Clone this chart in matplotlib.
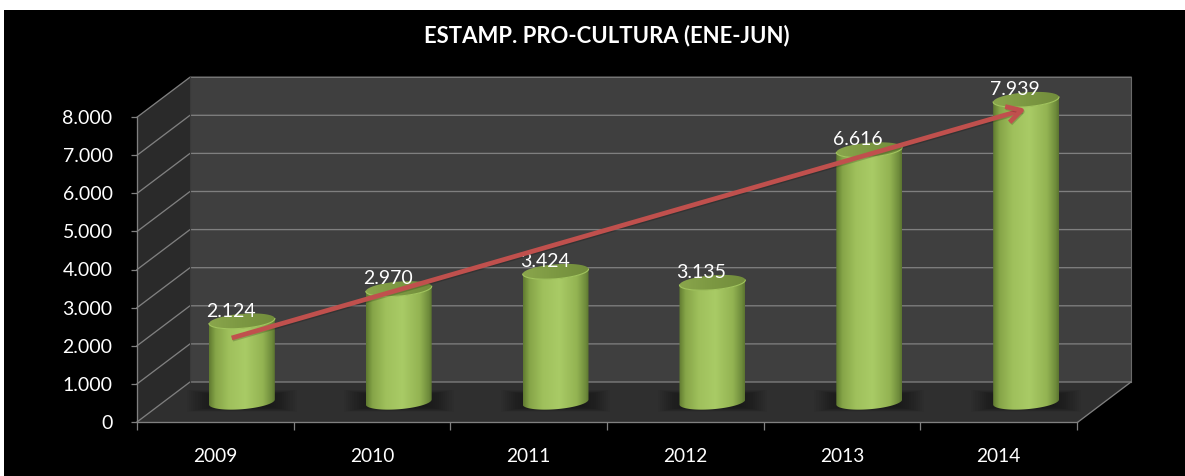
#!/usr/bin/env python3
# -*- coding: utf-8 -*-
import matplotlib
matplotlib.use("Agg")
import matplotlib.pyplot as plt
import matplotlib.patheffects as pe
from matplotlib.colors import LinearSegmentedColormap
from matplotlib.patches import Polygon, Rectangle
import numpy as np

years = ["2009", "2010", "2011", "2012", "2013", "2014"]
values = [2124, 2970, 3424, 3135, 6616, 7939]
y_ticks = [0, 1000, 2000, 3000, 4000, 5000, 6000, 7000, 8000]
title = "ESTAMP. PRO-CULTURA (ENE-JUN)"
# trend arrow, from and to (category position, value)
arrow_start = (-0.065, 1680)
arrow_end = (5.0, 7690)

W, H = 1185, 476
DX, DY = 0.169, 525      # half depth of the 3d box in data units
A, B, K = 0.21, 190, 66  # cylinder ellipse: half width, half height, tilt

plt.rcParams['font.family'] = ['Lato', 'DejaVu Sans']


def rect(x0, x1, ytop, ybot):
    return [x0 / W, (H - ybot) / H, (x1 - x0) / W, (ybot - ytop) / H]


def fmt(v):
    return f"{v:,}".replace(",", ".")


def ell(cx, cy, t):
    return cx + A * np.cos(t), cy + B * np.sin(t) + K * np.cos(t)


fig = plt.figure(figsize=(W / 100, H / 100), dpi=100, facecolor='white')
fig.patches.append(Rectangle((4 / W, 0), 1, (H - 10) / H, transform=fig.transFigure,
                             facecolor='black', edgecolor='none', zorder=-5))

# middle plane of the box, bars stand here
ax = fig.add_axes(rect(163.5, 1104.5, 97.2, 402))
ax.set_xlim(-0.5, 5.5)
ax.set_ylim(0, 8000)
ax.axis('off')

# axis box
x0, x1 = -0.5, 5.5
top = y_ticks[-1]
ax.add_patch(Rectangle((x0 + DX, DY), x1 - x0, top, facecolor='#3f3f3f', edgecolor='none',
                       clip_on=False, zorder=1))
ax.add_patch(Polygon([(x0 - DX, -DY), (x0 - DX, top - DY), (x0 + DX, top + DY), (x0 + DX, DY)],
                     facecolor='#2a2a2a', edgecolor='none', clip_on=False, zorder=1))
ax.add_patch(Polygon([(x0 - DX, -DY), (x1 - DX, -DY), (x1 + DX, DY), (x0 + DX, DY)],
                     facecolor='#2f2f2f', edgecolor='none', clip_on=False, zorder=1))
for v in y_ticks:
    ax.plot([x0 - DX, x0 + DX, x1 + DX], [v - DY, v + DY, v + DY], color='#7f7f7f', lw=0.95,
            clip_on=False, zorder=2)
ax.plot([x1 + DX, x1 + DX], [DY, top + DY], color='#6a6a6a', lw=0.8, clip_on=False, zorder=2)
ax.plot([x0 + DX, x0 + DX], [DY, top + DY], color='#3a3a3a', lw=0.8, clip_on=False, zorder=2)
ax.plot([x1 - DX, x1 + DX], [-DY, DY], color='#7f7f7f', lw=0.95, clip_on=False, zorder=2)

body_cmap = LinearSegmentedColormap.from_list('body', [
    (0.0, '#5f7a30'), (0.1, '#86a548'), (0.3, '#9fc05c'), (0.55, '#a9cb66'),
    (0.82, '#93b352'), (0.95, '#6f8c3c'), (1.0, '#5c7530')])
top_cmap = LinearSegmentedColormap.from_list('top', ['#8aa64c', '#7c9842', '#728d3c'])
grad = np.linspace(0, 1, 256).reshape(1, -1)
t_low = np.linspace(np.pi, 2 * np.pi, 80)
t_all = np.linspace(0, 2 * np.pi, 160)

for i, v in enumerate(values):
    # soft shadow on the floor
    for s in np.linspace(1.0, 0.5, 14):
        ax.add_patch(Rectangle((i - 0.35 * s, 30 - 290 * s), 0.7 * s, 580 * s, facecolor='black',
                               alpha=0.03, edgecolor='none', clip_on=False, zorder=3))
    # cylinder side, base front edge then top front edge back
    bx, by = ell(i, 0, t_low)
    tx, ty = ell(i, v, t_low[::-1])
    body = Polygon(np.column_stack([np.r_[bx, tx], np.r_[by, ty]]), transform=ax.transData,
                   facecolor='none', edgecolor='none')
    ax.add_patch(body)
    im = ax.imshow(grad, cmap=body_cmap, extent=(i - A, i + A, 0 - 2 * B, v + 2 * B),
                   aspect='auto', zorder=4)
    im.set_clip_path(body)
    im.set_clip_box(fig.bbox)
    # cylinder top
    ex, ey = ell(i, v, t_all)
    cap = Polygon(np.column_stack([ex, ey]), transform=ax.transData, facecolor='none',
                  edgecolor='none')
    ax.add_patch(cap)
    im = ax.imshow(grad, cmap=top_cmap, extent=(i - A, i + A, v - 2 * B, v + 2 * B),
                   aspect='auto', zorder=5)
    im.set_clip_path(cap)
    im.set_clip_box(fig.bbox)
    rx, ry = ell(i, v, t_low)
    ax.plot(rx, ry, color='#a2c55e', lw=0.8, zorder=6, clip_on=False)
    ax.text(i - 0.07, v + 262, fmt(v), color='white', fontsize=14, ha='center', va='center',
            zorder=7, clip_on=False)

ax.set_xlim(-0.5, 5.5)
ax.set_ylim(0, 8000)

ax.annotate('', xy=arrow_end, xytext=arrow_start, annotation_clip=False, zorder=8,
            arrowprops=dict(arrowstyle='->,head_length=0.75,head_width=0.42', color='#c0504d',
                            lw=3.4, mutation_scale=14, shrinkA=0, shrinkB=0, capstyle='butt',
                            path_effects=[pe.SimpleLineShadow(offset=(0.6, -0.9), alpha=0.18),
                                          pe.Normal()]))

# front axis with the ticks and labels
fax = fig.add_axes(rect(137, 1077, 117, 422), facecolor='none')
fax.set_xlim(-0.5, 5.5)
fax.set_ylim(0, 8000)
for s in ['top', 'right']:
    fax.spines[s].set_visible(False)
for s in ['left', 'bottom']:
    fax.spines[s].set_color('#808080')
    fax.spines[s].set_linewidth(0.95)
fax.set_yticks(y_ticks)
fax.set_yticklabels([fmt(v) for v in y_ticks])
fax.tick_params(axis='y', colors='#808080', labelcolor='white', length=4.6, width=0.9,
                pad=13, labelsize=14)
fax.set_xticks(np.arange(-0.5, 6))
fax.set_xticklabels([])
fax.tick_params(axis='x', which='major', colors='#808080', length=5.5, width=0.9)
fax.set_xticks(np.arange(6), minor=True)
fax.set_xticklabels(years, minor=True)
fax.tick_params(axis='x', which='minor', length=0, labelcolor='white', labelsize=13.8, pad=18.7)

fig.text(607 / W, (H - 36) / H, title, color='white', fontsize=15.9, fontweight='bold',
         ha='center', va='center')

fig.savefig('out.png', dpi=100, facecolor=fig.get_facecolor())
